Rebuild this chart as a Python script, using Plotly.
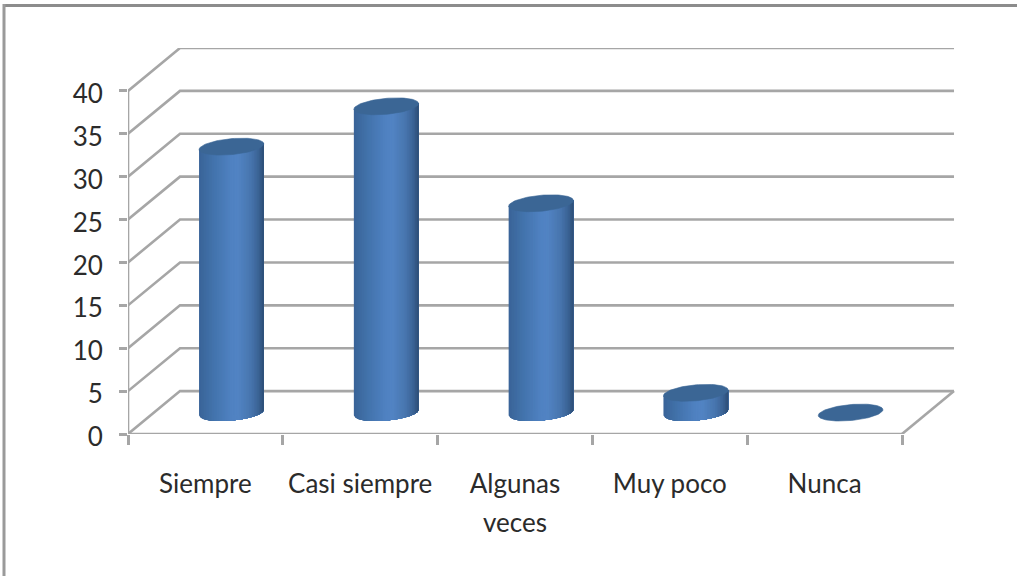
import numpy as np
import plotly.graph_objects as go

categories = ["Siempre", "Casi siempre", "Algunas", "Muy poco", "Nunca"]
second_line = ["", "", "veces", "", ""]
values = [31, 35.7, 24.4, 2.3, 0]
y_ticks = [0, 5, 10, 15, 20, 25, 30, 35, 40]

DX, DY = 0.336, 5.0          # depth of the pseudo-3D floor in axis units
HALF_W = 0.209               # cylinder half width in category units
ELL_B, ELL_S = 0.93, 0.33    # ellipse half height and tilt in value units
GRID = "#a6a6a6"
TEXT = "#2b2b2b"
FONT = "Lato"
FONT_SIZE = 26
N_STRIPS = 40

stops_u = [-1.0, -0.6, 0.0, 0.2, 0.6, 0.85, 1.0]
stops_c = [(58, 100, 152), (66, 114, 170), (80, 130, 194), (82, 132, 196),
           (72, 118, 174), (58, 98, 148), (46, 78, 118)]


def color_at(u):
    rgb = [np.interp(u, stops_u, [c[k] for c in stops_c]) for k in range(3)]
    return "rgb(%d,%d,%d)" % tuple(rgb)


fig = go.Figure()


def grid_line(xs, ys, color=GRID, width=2.6):
    fig.add_trace(go.Scatter(x=xs, y=ys, mode="lines", cliponaxis=False,
                             line=dict(color=color, width=width),
                             hoverinfo="skip", showlegend=False))


n = len(categories)
for v in y_ticks:
    grid_line([0, DX, n + DX], [v, v + DY, v + DY])
grid_line([n, n + DX], [0, DY])
grid_line([0, 0], [0, y_ticks[-1]])
grid_line([0, n], [0, 0])

for i, val in enumerate(values):
    cx = i + 0.5 + DX / 2
    base = DY / 2
    top = base + val
    if val > 0:
        # each band is painted from its left edge through to the right side of
        # the cylinder, so the next band covers it without visible seams
        edges = np.linspace(-1, 1, N_STRIPS + 1)
        for a, b in zip(edges[:-1], edges[1:]):
            us = np.linspace(a, 1, 40)
            low = base + ELL_S * us - ELL_B * np.sqrt(np.clip(1 - us ** 2, 0, None))
            high = top + ELL_S * us[::-1]
            col = color_at((a + b) / 2)
            fig.add_trace(go.Scatter(
                x=np.r_[cx + HALF_W * us, cx + HALF_W * us[::-1]],
                y=np.r_[low, high],
                mode="none", fill="toself", fillcolor=col,
                hoverinfo="skip", showlegend=False, cliponaxis=False))
    t = np.linspace(0, 2 * np.pi, 90)
    fig.add_trace(go.Scatter(
        x=cx + HALF_W * np.cos(t),
        y=top + ELL_S * np.cos(t) + ELL_B * np.sin(t),
        mode="lines", fill="toself", fillcolor="#3b6695",
        line=dict(color="#3b6695", width=0.6),
        hoverinfo="skip", showlegend=False, cliponaxis=False))

# frame of the picture (top and left edges only)
paper_x = lambda px: (px - 128) / 827
paper_y = lambda py: (434 - py) / 386
fig.add_shape(type="line", xref="paper", yref="paper", x0=paper_x(3), x1=paper_x(1017),
              y0=paper_y(5.5), y1=paper_y(5.5), line=dict(color="#8c8c8c", width=3))
fig.add_shape(type="line", xref="paper", yref="paper", x0=paper_x(4), x1=paper_x(4),
              y0=paper_y(4), y1=paper_y(576), line=dict(color="#9a9a9a", width=3))

for i, txt in enumerate(second_line):
    if txt:
        fig.add_annotation(x=i + 0.5, xref="x", y=paper_y(522), yref="paper", text=txt,
                           showarrow=False, yanchor="middle",
                           font=dict(family=FONT, size=FONT_SIZE, color=TEXT))

fig.update_layout(
    width=1017, height=576, autosize=False,
    margin=dict(l=128, r=62, t=48, b=142, pad=0),
    paper_bgcolor="white", plot_bgcolor="white", showlegend=False,
    xaxis=dict(range=[0, n * 827 / 774], showgrid=False, zeroline=False, showline=False,
               tickmode="array", tickvals=[i + 0.5 for i in range(n)], ticktext=categories,
               ticks="", ticklabelstandoff=32,
               tickfont=dict(family=FONT, size=FONT_SIZE, color=TEXT),
               minor=dict(tickmode="array", tickvals=list(range(n + 1)), ticks="outside",
                          ticklen=10, tickwidth=2.6, tickcolor=GRID, showgrid=False)),
    yaxis=dict(range=[0, 45], showgrid=False, zeroline=False, showline=False,
               tickmode="array", tickvals=y_ticks, ticktext=[str(v) for v in y_ticks],
               ticks="outside", ticklen=8, tickwidth=2.6, tickcolor=GRID, ticklabelstandoff=11,
               ticklabelshift=3,
               tickfont=dict(family=FONT, size=FONT_SIZE, color=TEXT)),
)

fig.write_html("out.html", config={"displayModeBar": False},
               post_script="document.body.style.margin='0';document.documentElement.style.overflow='hidden';")
